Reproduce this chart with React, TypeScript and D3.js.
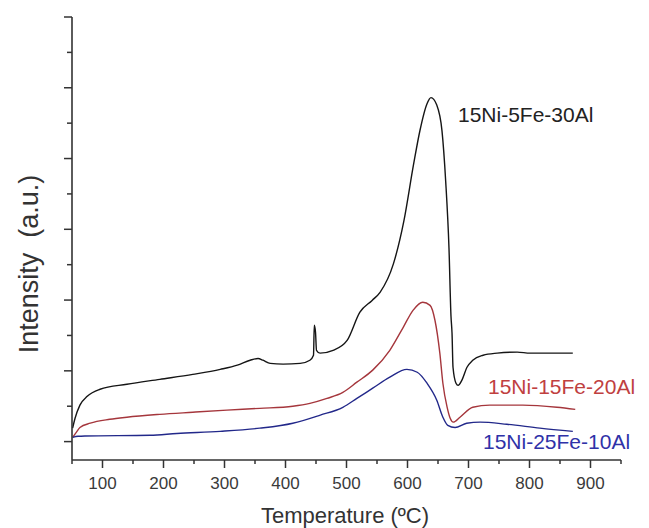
import React from "react";
import * as d3 from "d3";

// ---- data (temperature in °C, intensity in a.u.) ----
const blackT = [51, 55, 63, 75, 96, 140, 194, 248, 293, 321, 342, 355, 363, 375, 396, 424, 440, 445.9, 447.2, 449.2, 450.8, 456.6, 478, 501, 522, 542, 555, 577, 594, 610, 620.5, 632, 638.5, 648, 656.5, 662.6, 668, 671.3, 673, 674.6, 679.5, 683, 689, 697.5, 707, 724, 747, 780, 801, 871];
const blackV = [0.38, 0.66, 1.03, 1.28, 1.48, 1.62, 1.76, 1.9, 2.04, 2.16, 2.3, 2.35, 2.3, 2.21, 2.19, 2.21, 2.3, 2.44, 3.29, 3.09, 2.58, 2.5, 2.58, 2.86, 3.66, 3.99, 4.22, 5.03, 6.23, 7.84, 8.8, 9.55, 9.72, 9.51, 8.79, 7.36, 5.47, 3.54, 3.06, 2.1, 1.65, 1.59, 1.73, 2.1, 2.3, 2.44, 2.5, 2.53, 2.5, 2.5];

const redT = [51, 57, 63, 80, 112, 140, 194, 248, 304, 358, 412, 440, 468, 494, 517, 543, 571, 593, 609, 625, 637, 645, 653, 658, 665, 670, 675, 686, 707, 735, 789, 845, 875];
const redV = [0.12, 0.26, 0.4, 0.52, 0.63, 0.69, 0.77, 0.83, 0.89, 0.94, 1.0, 1.08, 1.22, 1.39, 1.68, 2.02, 2.58, 3.23, 3.71, 3.94, 3.85, 3.43, 2.5, 1.65, 0.97, 0.66, 0.55, 0.69, 0.97, 1.03, 1.03, 0.97, 0.91];

const blueT = [51, 60, 71, 178, 222, 293, 358, 412, 457, 494, 517, 543, 571, 599, 616, 632, 648, 658, 666, 678, 697, 719, 763, 817, 871];
const blueV = [0.12, 0.15, 0.16, 0.18, 0.23, 0.29, 0.38, 0.52, 0.75, 0.97, 1.22, 1.51, 1.82, 2.04, 1.96, 1.65, 1.17, 0.69, 0.46, 0.4, 0.52, 0.55, 0.49, 0.38, 0.29];

const seriesNames = ["15Ni-5Fe-30Al", "15Ni-15Fe-20Al", "15Ni-25Fe-10Al"];
const xMajorTicks = [100, 200, 300, 400, 500, 600, 700, 800, 900];
const xMinorTicks = [50, 150, 250, 350, 450, 550, 650, 750, 850, 950];
const yTicks = [0, 1, 2, 3, 4, 5, 6, 7, 8, 9, 10, 11, 12];

const W = 649;
const H = 528;
const axisColor = "#333";

export default function App() {
  const x = d3.scaleLinear().domain([50, 950]).range([72, 621]);
  const y = d3.scaleLinear().domain([-0.52, 12]).range([460, 17]);

  const mk = (t: number[], v: number[]) =>
    d3
      .line<number>()
      .x((_, i) => x(t[i]))
      .y((_, i) => y(v[i]))
      .curve(d3.curveMonotoneX)(t.map((_, i) => i)) || "";

  const series = [
    { t: blackT, v: blackV, color: "#151515" },
    { t: redT, v: redV, color: "#a5363c" },
    { t: blueT, v: blueV, color: "#22288a" },
  ];

  const font = "'Liberation Sans', Arial, sans-serif";

  return (
    <svg
      width={W}
      height={H}
      style={{ position: "absolute", left: 0, top: 0, background: "#fff" }}
    >
      <rect x={0} y={0} width={W} height={H} fill="#fff" />
      {/* curves */}
      {series.map((s, i) => (
        <path key={i} d={mk(s.t, s.v)} fill="none" stroke={s.color} strokeWidth={1.4} strokeLinejoin="round" />
      ))}

      {/* axes */}
      <line x1={x(50)} x2={x(950)} y1={460} y2={460} stroke={axisColor} strokeWidth={1.6} />
      <line x1={72} x2={72} y1={y(12)} y2={460} stroke={axisColor} strokeWidth={1.6} />

      {xMajorTicks.map((t) => (
        <g key={"xm" + t}>
          <line x1={x(t)} x2={x(t)} y1={460} y2={468} stroke={axisColor} strokeWidth={1.5} />
          <text x={x(t)} y={489} textAnchor="middle" fontFamily={font} fontSize={17} fill="#3a3a3a">
            {t}
          </text>
        </g>
      ))}
      {xMinorTicks.map((t) => (
        <line key={"xn" + t} x1={x(t)} x2={x(t)} y1={460} y2={464} stroke={axisColor} strokeWidth={1.5} />
      ))}
      {yTicks.map((v) => (
        <line
          key={"y" + v}
          x1={72}
          x2={v % 2 === 0 ? 64 : 67}
          y1={y(v)}
          y2={y(v)}
          stroke={axisColor}
          strokeWidth={1.5}
        />
      ))}

      {/* axis titles */}
      <text x={345} y={523} textAnchor="middle" fontFamily={font} fontSize={22} fill="#333">
        Temperature (ºC)
      </text>
      <text
        transform={`translate(38, 264) rotate(-90)`}
        textAnchor="middle"
        fontFamily={font}
        fontSize={27}
        fill="#333"
        style={{ whiteSpace: "pre" }}
      >
        {"Intensity  (a.u.)"}
      </text>

      {/* curve labels */}
      <text x={458} y={122} fontFamily={font} fontSize={21} fill="#222">
        {seriesNames[0]}
      </text>
      <text x={488} y={394} fontFamily={font} fontSize={21} fill="#c0403f">
        {seriesNames[1]}
      </text>
      <text x={483} y={449} fontFamily={font} fontSize={21} fill="#2f32a8">
        {seriesNames[2]}
      </text>
    </svg>
  );
}
